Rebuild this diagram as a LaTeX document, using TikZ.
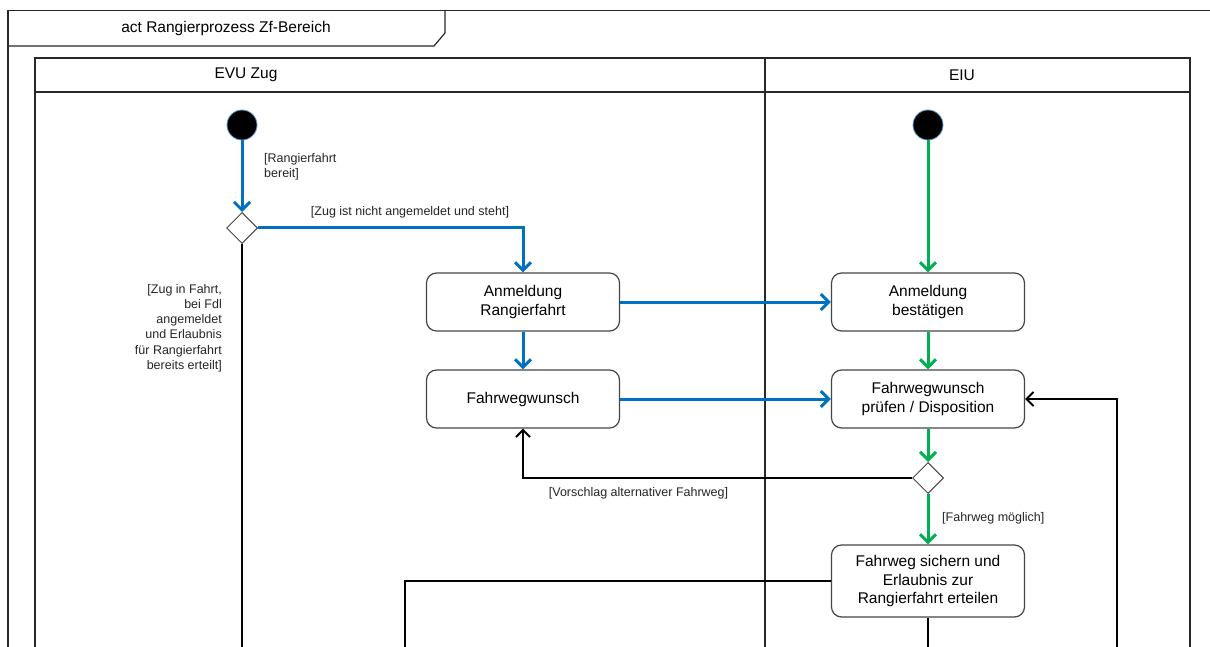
\documentclass[tikz,border=0pt]{standalone}
\usepackage{fontspec}
\setmainfont{Liberation Sans}
\usetikzlibrary{arrows.meta,shapes.geometric}
\definecolor{flowblue}{RGB}{0,112,192}
\definecolor{flowgreen}{RGB}{0,176,80}
\definecolor{boxgray}{RGB}{70,70,70}
\definecolor{lanegray}{RGB}{40,40,40}
\definecolor{ringblue}{RGB}{91,155,213}
\begin{document}
\begin{tikzpicture}[x=1pt,y=-1pt,
  action/.style={draw=boxgray, line width=1.2pt, rounded corners=10pt, fill=white,
    minimum width=193pt, minimum height=58pt, align=center, inner sep=2pt,
    font=\fontsize{15.5}{18.5}\selectfont},
  initial/.style={circle, fill=black, draw=ringblue, line width=0.8pt,
    minimum size=30pt, inner sep=0pt},
  decision/.style={diamond, draw=boxgray, fill=white, line width=1pt,
    minimum width=31pt, minimum height=31pt, inner sep=0pt},
  guard/.style={font=\fontsize{12.5}{15.2}\selectfont, inner sep=0pt, text=black!85},
  lanetext/.style={font=\fontsize{15.5}{18}\selectfont, inner sep=0pt},
  laneline/.style={draw=lanegray, line width=1.2pt},
  blueflow/.style={draw=flowblue, line width=3pt, -{Straight Barb[length=8pt,width=16pt]}},
  greenflow/.style={draw=flowgreen, line width=3pt, -{Straight Barb[length=8pt,width=16pt]}},
  blackflow/.style={draw=black, line width=2pt, -{Straight Barb[length=7pt,width=14pt]}},
  blackline/.style={draw=black, line width=2pt}
]
\clip (0,0) rectangle (1210,647);
\fill[white] (0,0) rectangle (1210,647);

% activity frame with its name tab
\draw[laneline] (8,660) -- (8,10.5) -- (1220,10.5);
\draw[laneline] (8,46) -- (434,46) -- (445,33) -- (445,10.5);
\node[lanetext] (title) at (226,28) {act Rangierprozess Zf-Bereich};

% swimlanes
\draw[laneline] (35,660) -- (35,58) -- (1190,58) -- (1190,660);
\draw[laneline] (35,92) -- (1190,92);
\draw[laneline] (765,58) -- (765,660);
\node[lanetext] (laneA) at (246,75) {EVU Zug};
\node[lanetext] (laneB) at (962,75) {EIU};

% nodes of the EVU lane
\node[initial] (s1) at (242,125) {};
\node[decision] (d1) at (242,228) {};
\node[action] (a1) at (523,302) {Anmeldung\\Rangierfahrt};
\node[action] (a2) at (523,399) {Fahrwegwunsch};

% nodes of the EIU lane
\node[initial] (s2) at (928,125) {};
\node[action] (b1) at (928,302) {Anmeldung\\bestätigen};
\node[action] (b2) at (928,399) {Fahrwegwunsch\\prüfen / Disposition};
\node[decision] (d2) at (928,478) {};
\node[action, minimum height=72pt] (b3) at (928,581) {Fahrweg sichern und\\Erlaubnis zur\\Rangierfahrt erteilen};

% free ends leaving the visible area
\coordinate (d1out) at (242,660);
\coordinate (b3left) at (405,660);
\coordinate (b3out) at (928,660);
\coordinate (loopin) at (1117,660);

% flows of the EVU
\draw[blueflow] (s1) -- (d1);
\draw[blueflow] (d1.east) -| (a1.north);
\draw[blueflow] (a1) -- (a2);
\draw[blueflow] (a1) -- (b1);
\draw[blueflow] (a2) -- (b2);

% flows of the EIU
\draw[greenflow] (s2) -- (b1);
\draw[greenflow] (b1) -- (b2);
\draw[greenflow] (b2) -- (d2);
\draw[greenflow] (d2) -- (b3);

% other flows
\draw[blackline] (d1.south) -- (d1out);
\draw[blackflow] (d2.west) -| (a2.south);
\draw[blackline] (b3.west) -| (b3left);
\draw[blackline] (b3.south) -- (b3out);
\draw[blackflow] (loopin) |- (b2.east);

% guards
\node[guard, anchor=west, align=left] (g1) at (264,166.5) {[Rangierfahrt\\bereit]};
\node[guard] (g2) at (410,212) {[Zug ist nicht angemeldet und steht]};
\node[guard, anchor=east, align=right] (g3) at (222,328)
  {[Zug in Fahrt,\\bei Fdl\\angemeldet\\und Erlaubnis\\für Rangierfahrt\\bereits erteilt]};
\node[guard] (g4) at (638.5,493) {[Vorschlag alternativer Fahrweg]};
\node[guard, anchor=west] (g5) at (942,518) {[Fahrweg möglich]};
\end{tikzpicture}
\end{document}
